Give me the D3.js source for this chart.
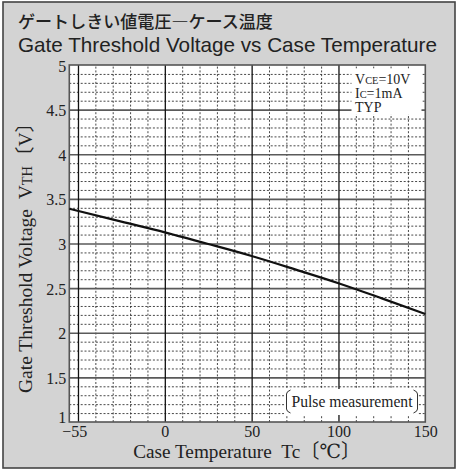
<!DOCTYPE html>
<html><head><meta charset="utf-8">
<script src="https://cdn.jsdelivr.net/npm/d3@7"></script>
<style>
html,body{margin:0;padding:0;background:#fff;}
svg{display:block;}
</style></head>
<body>
<svg id="c" width="461" height="470"></svg>
<script>
// ---- data ----
const temps = [-55, -25, 0, 25, 50, 75, 100, 125, 150];
const vth   = [3.39, 3.245, 3.125, 2.995, 2.86, 2.71, 2.555, 2.385, 2.21];
const xTickValues = [-55, 0, 50, 100, 150];
const xTickLabels = ["\u221255", "0", "50", "100", "150"];
const yTickValues = [1, 1.5, 2, 2.5, 3, 3.5, 4, 4.5, 5];
const yTickLabels = ["1", "1.5", "2", "2.5", "3", "3.5", "4", "4.5", "5"];
const xMajorGrid = [-50, 0, 50, 100];
const xMinorGrid = [-40,-30,-20,-10,10,20,30,40,60,70,80,90,110,120,130,140];
const yMajorGrid = [1.5, 2, 2.5, 3, 3.5, 4, 4.5];
const yMinorGrid = d3.range(11, 50).filter(d => d % 5 !== 0).map(d => d / 10);
const titleJa = "ゲートしきい値電圧―ケース温度";
const titleEn = "Gate Threshold Voltage vs Case Temperature";

const svg = d3.select("#c");
const serif = "'Liberation Serif','DejaVu Serif','Noto Sans CJK JP',serif";
const L = 69.3, R = 425.3, T = 65, B = 422;
const x = d3.scaleLinear().domain([-55, 150]).range([L, R]);
const y = d3.scaleLinear().domain([1, 5]).range([B, T]);

function fit(sel, target) {
  const n = sel.node();
  const fs = parseFloat(sel.attr("font-size"));
  const w = n.getComputedTextLength();
  sel.attr("font-size", (fs * target / w).toFixed(2));
}
function squeeze(sel, target) {
  sel.attr("textLength", target).attr("lengthAdjust", "spacingAndGlyphs");
}

// background panel
svg.append("rect").attr("x", 3).attr("y", 2).attr("width", 452).attr("height", 466)
  .attr("fill", "#d3d3d3").attr("stroke", "#444").attr("stroke-width", 1.6);

// titles
const tj = svg.append("text").attr("x", 18).attr("y", 28)
  .attr("font-family", "'Noto Sans CJK JP','Noto Sans',sans-serif").attr("font-weight", 500)
  .attr("font-size", 17).attr("fill", "#222").text(titleJa);
fit(tj, 255);
const te = svg.append("text").attr("x", 18).attr("y", 52)
  .attr("font-family", "'Liberation Sans',Arial,sans-serif")
  .attr("font-size", 20).attr("fill", "#222").text(titleEn);
fit(te, 419);

// plot background
svg.append("rect").attr("x", L).attr("y", T).attr("width", R - L).attr("height", B - T).attr("fill", "#fff");

// minor grids via axes
const gMinX = svg.append("g").attr("transform", `translate(0,${B})`)
  .call(d3.axisBottom(x).tickValues(xMinorGrid).tickSize(-(B - T)).tickFormat(""));
const gMinY = svg.append("g").attr("transform", `translate(${L},0)`)
  .call(d3.axisLeft(y).tickValues(yMinorGrid).tickSize(-(R - L)).tickFormat(""));
[gMinX, gMinY].forEach(g => {
  g.select(".domain").remove();
  g.selectAll("line").attr("stroke", "#333").attr("stroke-width", 0.9).attr("stroke-dasharray", "2,1.8");
});

// major grids
const gMajY = svg.append("g").attr("transform", `translate(${L},0)`)
  .call(d3.axisLeft(y).tickValues(yMajorGrid).tickSize(-(R - L)).tickFormat(""));
gMajY.select(".domain").remove();
gMajY.selectAll("line").attr("stroke", "#5a5a5a").attr("stroke-width", 1.6);
const gMajX = svg.append("g").attr("transform", `translate(0,${B})`)
  .call(d3.axisBottom(x).tickValues(xMajorGrid).tickSize(-(B - T)).tickFormat(""));
gMajX.select(".domain").remove();
gMajX.selectAll("line").attr("stroke", "#111").attr("stroke-width", 1.3);

// annotation boxes (white)
svg.append("rect").attr("x", 351.5).attr("y", 68.5).attr("width", 70).attr("height", 46).attr("fill", "#fff");
svg.append("rect").attr("x", 284).attr("y", 389).attr("width", 134).attr("height", 26).attr("fill", "#fff");

// frame
svg.append("rect").attr("x", L).attr("y", T).attr("width", R - L).attr("height", B - T)
  .attr("fill", "none").attr("stroke", "#555").attr("stroke-width", 1.6);

// curve
const line = d3.line().x((d, i) => x(temps[i])).y(d => y(d)).curve(d3.curveMonotoneX);
svg.append("path").datum(vth).attr("d", line).attr("fill", "none")
  .attr("stroke", "#111").attr("stroke-width", 2.2);

// tick labels via axes
const ax = svg.append("g").attr("transform", `translate(0,${B})`)
  .call(d3.axisBottom(x).tickValues(xTickValues).tickSize(0).tickPadding(0)
    .tickFormat((d, i) => xTickLabels[i]));
ax.select(".domain").remove();
ax.selectAll("text").attr("font-family", serif).attr("font-size", 16).attr("fill", "#222")
  .attr("dy", null).attr("y", 14.5)
  .attr("dx", (d) => d === -55 ? 5 : 0);

const ay = svg.append("g").attr("transform", `translate(${L},0)`)
  .call(d3.axisLeft(y).tickValues(yTickValues).tickSize(0).tickPadding(3)
    .tickFormat((d, i) => yTickLabels[i]));
ay.select(".domain").remove();
ay.selectAll("text").attr("font-family", serif).attr("font-size", 16).attr("fill", "#222")
  .attr("dy", d => d === 1 ? "0.02em" : (d === 5 ? "0.42em" : "0.38em"));

// axis titles
const xt = svg.append("text").attr("x", 246.7).attr("y", 458).attr("text-anchor", "middle")
  .attr("font-family", serif).attr("font-size", 19.5).attr("fill", "#222")
  .text("Case Temperature\u00a0\u00a0Tc\u3014\u2103\u3015");
squeeze(xt, 227);

const yt = svg.append("text").attr("transform", "translate(31.5,253) rotate(-90)")
  .attr("text-anchor", "middle").attr("font-family", serif).attr("font-size", 19.5).attr("fill", "#222");
yt.append("tspan").text("Gate Threshold Voltage\u00a0\u00a0V");
yt.append("tspan").attr("font-size", "0.74em").text("TH");
yt.append("tspan").text("\u3014V\u3015");
squeeze(yt, 280);

// conditions (one multi-line text)
const ct = svg.append("text").attr("font-family", serif).attr("font-size", 14).attr("fill", "#222");
ct.append("tspan").attr("x", 355).attr("y", 83.5).text("V");
ct.append("tspan").attr("font-size", "0.74em").text("CE");
ct.append("tspan").text("=10V");
ct.append("tspan").attr("x", 355).attr("y", 97.8).text("I");
ct.append("tspan").attr("font-size", "0.74em").text("C");
ct.append("tspan").text("=1mA");
ct.append("tspan").attr("x", 355).attr("y", 112.1).text("TYP");

// pulse measurement
const pt = svg.append("text").attr("x", 291.5).attr("y", 407).attr("font-family", serif)
  .attr("font-size", 17).attr("fill", "#222").text("Pulse measurement");
squeeze(pt, 121);
svg.append("path").attr("d", "M290.5,390 Q286.5,391.5 286.5,394 L286.5,409 Q286.5,411.5 290.5,413")
  .attr("fill", "none").attr("stroke", "#333").attr("stroke-width", 1);
svg.append("path").attr("d", "M413.5,390 Q417.5,391.5 417.5,394 L417.5,409 Q417.5,411.5 413.5,413")
  .attr("fill", "none").attr("stroke", "#333").attr("stroke-width", 1);
</script>
</body></html>
